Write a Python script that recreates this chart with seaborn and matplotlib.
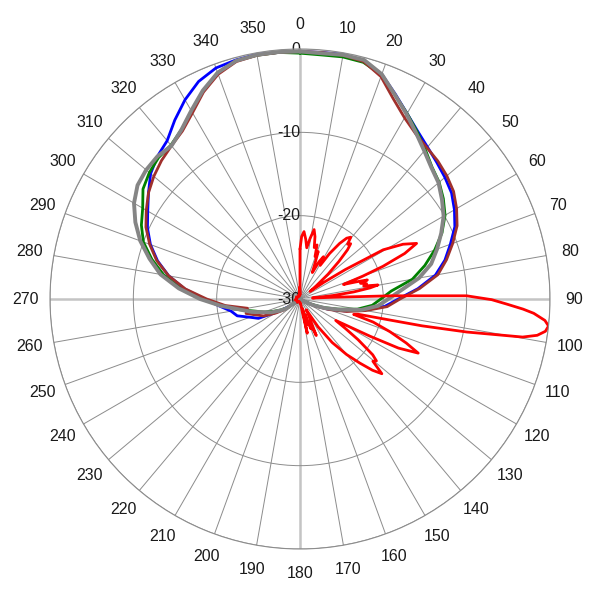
import numpy as np
import pandas as pd
import matplotlib
matplotlib.use("Agg")
import matplotlib.pyplot as plt
import seaborn as sns

# angles (deg) for the four broad patterns, every 5 degrees
angles = list(range(0, 360, 5))

gray_db = [-0.3, -0.4, -0.25, -0.3, -1.3, -3.0, -4.4, -5.7, -6.8, -7.7, -8.3, -9.2,
           -10.1, -11.3, -12.5, -13.7, -15.5, -17.8, -19.4, -20.6, -22.5, -25.0, -26.8, -28.2,
           -29.3] + [-30.0] * 22 + [
           -28.0, -27.2, -26.2, -25.4, -24.0, -22.7, -20.5, -18.0, -15.4, -13.0, -11.3, -9.6,
           -8.2, -7.0, -6.2, -5.9, -5.8, -6.0, -5.2, -3.9, -2.4, -1.1, -0.4, -0.25, -0.25]

green_db = [-0.5, -0.6, -0.5, -0.6, -1.4, -3.0, -4.3, -5.5, -6.6, -7.6, -8.2, -9.0,
            -9.9, -11.2, -12.8, -14.5, -16.3, -19.0, -20.3, -21.3, -23.0, -25.3, -27.0, -28.5,
            -29.5] + [-30.0] * 22 + [
            -28.2, -27.4, -26.5, -25.4, -24.4, -22.6, -20.8, -18.3, -15.6, -13.4, -11.6, -10.0,
            -9.0, -8.2, -7.0, -6.4, -6.0, -5.9, -5.2, -4.0, -2.5, -1.1, -0.4, -0.3, -0.3]

brown_db = [-0.3, -0.3, -0.3, -0.5, -1.6, -3.5, -4.9, -5.8, -6.3, -6.6, -7.0, -7.5,
            -8.3, -9.2, -10.5, -11.8, -13.2, -15.6, -18.0, -19.5, -22.0, -24.2, -26.3, -28.0,
            -29.3] + [-30.0] * 22 + [
            -27.8, -26.6, -25.2, -24.4, -23.3, -23.6, -21.0, -18.8, -16.2, -14.0, -12.2, -10.8,
            -9.6, -8.7, -7.8, -7.1, -6.5, -6.0, -5.4, -4.2, -2.6, -1.3, -0.5, -0.3, -0.3]

blue_db = [-0.3, -0.3, -0.2, -0.4, -1.3, -2.9, -4.3, -5.4, -6.2, -6.8, -7.3, -7.8,
           -8.6, -9.5, -10.8, -12.0, -13.5, -15.8, -18.2, -19.8, -22.3, -24.5, -26.5, -28.2,
           -29.3] + [-30.0] * 22 + [
           -28.5, -27.0, -24.5, -23.6, -22.2, -21.6, -20.3, -18.5, -16.1, -14.0, -12.3, -10.9,
           -9.8, -8.9, -7.8, -6.6, -5.8, -5.2, -3.8, -2.4, -1.2, -0.5, -0.3, -0.2, -0.3]

# narrow-beam pattern (red)
red_angles = [0, 1.5, 3.4, 5.5, 7.5, 9.5, 11.5, 13.5, 15.5, 17.5, 19.5, 21, 23, 25, 27, 29,
              31, 33, 35.5, 37.5, 39.4, 41, 42.5, 44, 46, 48.5, 51, 53, 55, 57, 59.4, 62,
              64.5, 66.5, 68.5, 70, 71.5, 73, 74.2, 75.5, 77, 78.5, 79.8, 81, 82.5, 84, 85.5,
              87, 88, 88.9, 90.2, 91.4, 92.6, 93.5, 95, 96.2, 97.5, 98.7, 99.7, 101.2, 102.4,
              103.2, 104.7, 106, 107.5, 110, 112.5, 114.6, 116.5, 118, 119.5, 121, 123, 125,
              127.5, 129, 130.5, 132.4, 134.5, 137, 140, 143.5, 147, 150, 153, 156, 158, 160,
              162, 164, 166, 168, 170, 173, 180, 200, 220, 240, 260, 280, 300, 320, 340, 355,
              358, 359.5]
red_db = [-24.0, -22.5, -21.9, -22.8, -23.8, -22.6, -21.5, -22.3, -23.6, -23.2, -24.6, -23.9,
          -25.5, -26.5, -25.0, -24.2, -25.3, -23.5, -21.8, -20.8, -20.4, -21.3, -21.0, -21.8,
          -23.5, -25.5, -27.5, -28.5, -26.5, -23.5, -18.4, -16.0, -14.5, -16.3, -19.3, -22.0,
          -24.5, -23.0, -21.6, -22.5, -21.8, -22.2, -20.5, -21.5, -23.5, -26.0, -28.5, -26.0,
          -19.0, -10.0, -7.0, -5.2, -3.2, -1.9, -0.5, 0.0, -0.3, -1.2, -2.9, -9.6, -15.0,
          -19.0, -22.8, -23.3, -20.8, -18.5, -16.2, -14.4, -16.8, -20.5, -23.5, -25.0, -23.5,
          -21.5, -19.0, -18.2, -18.5, -16.7, -17.8, -19.5, -21.3, -23.5, -26.0, -28.5, -27.5,
          -25.2, -27.0, -26.2, -28.0, -26.8, -28.8, -25.8, -28.5, -29.5, -29.5, -29.7, -29.5,
          -29.6, -29.4, -29.6, -29.5, -29.7, -29.5, -29.6, -28.6, -29.5]

angle_labels = [str(a) for a in range(0, 360, 10)]
ring_values = [-30, -20, -10, 0]
ring_labels = ["-30", "-20", "-10", "0"]

series = [("blue", blue_db, "#0000FF", 2.0),
          ("green", green_db, "#008000", 2.0),
          ("brown", brown_db, "#A0302C", 2.0),
          ("gray", gray_db, "#858585", 2.8)]

sns.set_style("white")
plt.rcParams["font.family"] = ["Liberation Sans", "DejaVu Sans"]

fig = plt.figure(figsize=(6, 6), dpi=100)
ax = fig.add_axes([50 / 600, 51 / 600, 500 / 600, 500 / 600], projection="polar")
ax.set_theta_zero_location("N")
ax.set_theta_direction(-1)
ax.set_ylim(-30, 0)

def closed(a, v):
    return np.deg2rad(np.append(a, 360.0)), np.append(v, v[0])

for name, vals, col, lw in series:
    th, rr = closed(angles, vals)
    df = pd.DataFrame({"theta": th, "r": rr})
    sns.lineplot(data=df, x="theta", y="r", sort=False, estimator=None, color=col,
                 linewidth=lw, ax=ax, legend=False)

th, rr = closed(red_angles, red_db)
df_red = pd.DataFrame({"theta": th, "r": rr})
sns.lineplot(data=df_red, x="theta", y="r", sort=False, estimator=None, color="#FF0000",
             linewidth=2.0, ax=ax, legend=False)

for ln in ax.lines:
    ln.set_solid_joinstyle("round")

ax.set_xlabel("")
ax.set_ylabel("")

# grid
ax.set_xticks(np.deg2rad(np.arange(0, 360, 10)))
ax.set_xticklabels([])
ax.set_yticks(ring_values)
ax.set_yticklabels([])
ax.grid(True, color="#8c8c8c", linewidth=0.7)
for i, gl in enumerate(ax.xaxis.get_gridlines()):
    if i % 9 == 0:
        gl.set_color("#c4c4c4")
        gl.set_linewidth(1.8)
ax.spines["polar"].set_color("#8c8c8c")
ax.spines["polar"].set_linewidth(0.8)

for a, lab in zip(range(0, 360, 10), angle_labels):
    ax.text(np.deg2rad(a), 2.9, lab, ha="center", va="center", fontsize=11.5,
            color="#1a1a1a", clip_on=False)

for rv, lab in zip(ring_values, ring_labels):
    ax.annotate(lab, xy=(0, rv), xytext=(0, 0), textcoords="offset points",
                ha="right", va="center", fontsize=11.5, color="#1a1a1a", zorder=1)

fig.savefig("out.png", dpi=100)
